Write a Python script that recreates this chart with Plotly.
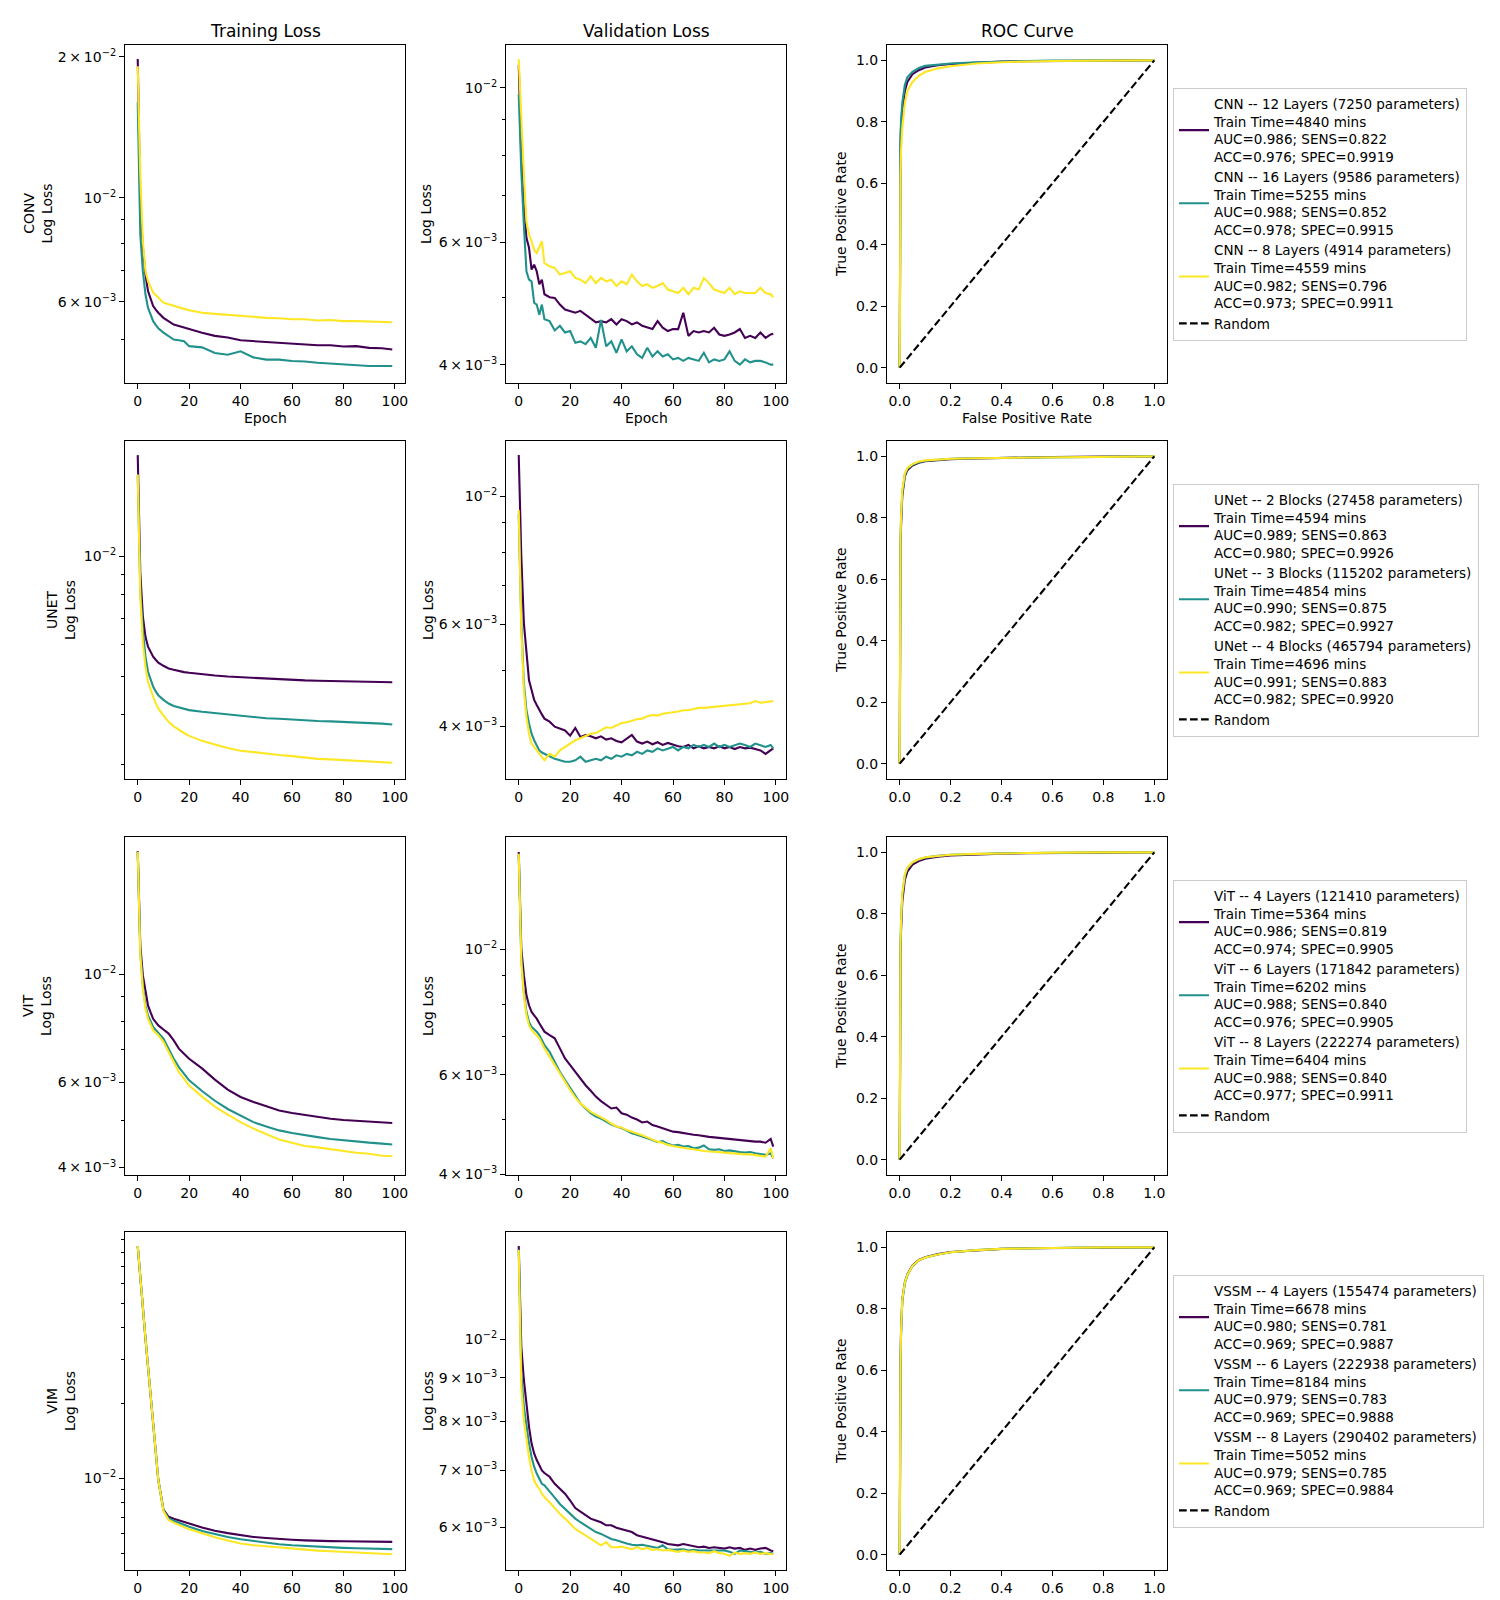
import math
import plotly.graph_objects as go
from plotly.subplots import make_subplots

W, H = 1500, 1600
COLORS = ['#440154', '#21918c', '#fde725']
ROW_NAMES = ['CONV', 'UNET', 'VIT', 'VIM']
COLUMN_TITLES = ['Training Loss', 'Validation Loss', 'ROC Curve']

# epochs at which the curves were read
TRAIN_EPOCHS = [0, 1, 2, 3, 4, 5, 6, 7, 8, 10, 12, 14, 16, 18, 20, 25, 30, 35, 40, 45,
                50, 55, 60, 65, 70, 75, 80, 85, 90, 95, 99]
VAL_EPOCHS = list(range(0, 11)) + list(range(12, 99, 2)) + [99]
FPR = [0, 0.001, 0.003, 0.005, 0.01, 0.02, 0.03, 0.05, 0.075, 0.1, 0.15, 0.2, 0.3, 0.4, 0.5, 0.6, 0.8, 1.0]

# losses are given in units of 1e-3
conv_train_12 = [19.8, 9.54, 7.83, 6.87, 6.33, 6.08, 5.88, 5.78, 5.69, 5.55, 5.46, 5.37, 5.33, 5.29, 5.24, 5.16,
                 5.08, 5.04, 4.97, 4.95, 4.93, 4.91, 4.89, 4.87, 4.85, 4.85, 4.82, 4.83, 4.79, 4.78, 4.75]
conv_train_16 = [16.0, 8.36, 6.98, 6.23, 5.83, 5.65, 5.46, 5.36, 5.27, 5.16, 5.08, 4.99, 4.97, 4.95, 4.83, 4.80,
                 4.67, 4.63, 4.71, 4.57, 4.52, 4.52, 4.49, 4.48, 4.45, 4.43, 4.41, 4.40, 4.38, 4.38, 4.38]
conv_train_8 = [19.1, 11.23, 8.09, 6.98, 6.65, 6.43, 6.28, 6.21, 6.13, 5.98, 5.93, 5.88, 5.83, 5.80, 5.76, 5.69,
                5.66, 5.63, 5.61, 5.59, 5.55, 5.54, 5.51, 5.51, 5.48, 5.49, 5.46, 5.46, 5.45, 5.45, 5.43]

conv_val_12 = [10.8, 8.0, 6.72, 6.09, 5.89, 5.48, 5.57, 5.45, 5.22, 5.30, 5.05,
               5.00, 4.99, 4.88, 4.80, 4.78, 4.75, 4.78, 4.72, 4.67, 4.60,
               4.62, 4.60, 4.65, 4.57, 4.65, 4.62, 4.57, 4.60, 4.55, 4.52,
               4.50, 4.62, 4.52, 4.47, 4.50, 4.50, 4.75, 4.40, 4.47, 4.45,
               4.47, 4.45, 4.52, 4.42, 4.40, 4.42, 4.45, 4.50, 4.37, 4.40,
               4.37, 4.45, 4.37, 4.42, 4.43]
conv_val_16 = [9.79, 7.6, 6.36, 5.45, 5.30, 5.27, 4.91, 4.88, 4.72, 4.88, 4.65,
               4.62, 4.48, 4.55, 4.45, 4.47, 4.30, 4.32, 4.28, 4.37, 4.23,
               4.64, 4.25, 4.32, 4.16, 4.35, 4.18, 4.25, 4.14, 4.09, 4.23,
               4.11, 4.18, 4.11, 4.14, 4.07, 4.09, 4.05, 4.09, 4.07, 4.05,
               4.16, 4.03, 4.07, 4.05, 4.07, 4.18, 4.05, 4.00, 4.07, 4.03,
               4.05, 4.05, 4.03, 4.00, 4.00]
conv_val_8 = [11.0, 9.0, 7.51, 6.42, 6.16, 6.02, 5.85, 5.79, 5.89, 6.02, 5.60,
              5.54, 5.51, 5.39, 5.42, 5.45, 5.33, 5.30, 5.24, 5.36, 5.24,
              5.33, 5.27, 5.30, 5.19, 5.27, 5.22, 5.39, 5.27, 5.19, 5.22,
              5.16, 5.19, 5.24, 5.13, 5.10, 5.07, 5.16, 5.05, 5.16, 5.13,
              5.33, 5.24, 5.13, 5.10, 5.07, 5.16, 5.05, 5.10, 5.07, 5.07,
              5.07, 5.16, 5.07, 5.05, 5.00]

unet_train_2 = [17.96, 9.08, 7.06, 6.29, 5.93, 5.75, 5.60, 5.50, 5.41, 5.31, 5.23, 5.19, 5.15, 5.12, 5.10, 5.05,
                5.02, 4.99, 4.97, 4.94, 4.92, 4.90, 4.89, 4.88, 4.87, 4.86, 4.86, 4.85, 4.84, 4.84, 4.83]
unet_train_3 = [16.0, 8.24, 6.53, 5.60, 5.13, 4.90, 4.71, 4.58, 4.48, 4.36, 4.27, 4.21, 4.17, 4.14, 4.11, 4.07,
                4.04, 4.00, 3.97, 3.95, 3.92, 3.91, 3.89, 3.88, 3.86, 3.85, 3.84, 3.82, 3.81, 3.80, 3.78]
unet_train_4 = [16.06, 7.93, 6.05, 5.28, 4.84, 4.62, 4.44, 4.28, 4.15, 3.98, 3.84, 3.74, 3.66, 3.60, 3.54, 3.44,
                3.37, 3.30, 3.25, 3.22, 3.19, 3.17, 3.15, 3.12, 3.10, 3.09, 3.08, 3.06, 3.05, 3.04, 3.03]

unet_val_2 = [11.78, 7.87, 6.03, 5.28, 4.80, 4.62, 4.44, 4.35, 4.26, 4.19, 4.12,
              4.07, 3.99, 3.96, 3.93, 3.85, 3.97, 3.83, 3.86, 3.84, 3.81,
              3.84, 3.79, 3.81, 3.77, 3.75, 3.80, 3.86, 3.76, 3.73, 3.76,
              3.72, 3.75, 3.71, 3.74, 3.71, 3.69, 3.68, 3.71, 3.66, 3.69,
              3.66, 3.68, 3.66, 3.69, 3.66, 3.68, 3.65, 3.68, 3.66, 3.67,
              3.65, 3.63, 3.58, 3.64, 3.66]
unet_val_3 = [9.3, 6.03, 4.74, 4.26, 4.04, 3.88, 3.78, 3.71, 3.63, 3.60, 3.58,
              3.54, 3.51, 3.49, 3.47, 3.47, 3.49, 3.54, 3.47, 3.49, 3.51,
              3.49, 3.54, 3.51, 3.56, 3.54, 3.58, 3.56, 3.61, 3.58, 3.63,
              3.61, 3.66, 3.63, 3.66, 3.68, 3.63, 3.68, 3.66, 3.71, 3.68,
              3.71, 3.68, 3.73, 3.68, 3.71, 3.68, 3.71, 3.73, 3.71, 3.68,
              3.73, 3.71, 3.68, 3.71, 3.66]
unet_val_4 = [9.46, 5.87, 4.62, 4.15, 3.88, 3.73, 3.68, 3.63, 3.58, 3.54, 3.49,
              3.58, 3.54, 3.63, 3.68, 3.73, 3.78, 3.81, 3.84, 3.88, 3.89,
              3.94, 3.98, 3.97, 4.01, 4.05, 4.06, 4.09, 4.11, 4.12, 4.16,
              4.18, 4.17, 4.20, 4.21, 4.23, 4.24, 4.26, 4.26, 4.28, 4.30,
              4.30, 4.31, 4.32, 4.33, 4.34, 4.34, 4.35, 4.36, 4.38, 4.38,
              4.42, 4.39, 4.40, 4.41, 4.42]

vit_train_4 = [17.95, 11.48, 9.95, 9.20, 8.63, 8.35, 8.10, 7.97, 7.85, 7.70, 7.55, 7.31, 7.03, 6.86, 6.70, 6.40,
               6.07, 5.79, 5.59, 5.46, 5.35, 5.24, 5.18, 5.13, 5.09, 5.04, 5.01, 4.99, 4.97, 4.95, 4.94]
vit_train_6 = [17.9, 11.11, 9.49, 8.63, 8.23, 7.98, 7.79, 7.68, 7.58, 7.37, 7.03, 6.70, 6.44, 6.24, 6.05, 5.75,
               5.49, 5.28, 5.11, 4.96, 4.86, 4.77, 4.71, 4.66, 4.62, 4.58, 4.55, 4.53, 4.50, 4.48, 4.46]
vit_train_8 = [17.9, 10.94, 9.34, 8.50, 8.10, 7.87, 7.67, 7.58, 7.49, 7.26, 6.92, 6.60, 6.29, 6.10, 5.90, 5.60,
               5.34, 5.14, 4.96, 4.81, 4.68, 4.57, 4.50, 4.43, 4.40, 4.36, 4.32, 4.29, 4.27, 4.23, 4.22]

vit_val_4 = [14.85, 10.03, 9.00, 8.29, 7.96, 7.75, 7.64, 7.54, 7.40, 7.28, 7.15,
             7.05, 6.96, 6.68, 6.41, 6.24, 6.07, 5.91, 5.75, 5.62, 5.49,
             5.39, 5.31, 5.23, 5.25, 5.13, 5.10, 5.04, 5.00, 4.94, 4.96,
             4.89, 4.86, 4.83, 4.80, 4.76, 4.75, 4.73, 4.72, 4.70, 4.69,
             4.67, 4.66, 4.65, 4.64, 4.62, 4.62, 4.60, 4.60, 4.59, 4.58,
             4.57, 4.57, 4.55, 4.62, 4.48]
vit_val_6 = [14.65, 9.63, 8.41, 7.75, 7.44, 7.29, 7.22, 7.15, 7.05, 6.90, 6.77,
             6.59, 6.33, 6.07, 5.87, 5.68, 5.49, 5.34, 5.23, 5.13, 5.06,
             5.02, 4.96, 4.90, 4.86, 4.83, 4.78, 4.73, 4.70, 4.67, 4.63,
             4.60, 4.56, 4.58, 4.53, 4.50, 4.51, 4.48, 4.49, 4.45, 4.46,
             4.50, 4.43, 4.42, 4.43, 4.40, 4.41, 4.39, 4.38, 4.37, 4.38,
             4.36, 4.35, 4.33, 4.36, 4.27]
vit_val_8 = [14.75, 9.50, 8.29, 7.65, 7.34, 7.20, 7.12, 7.05, 6.96, 6.82, 6.68,
             6.46, 6.24, 6.03, 5.83, 5.64, 5.47, 5.34, 5.25, 5.16, 5.10,
             5.05, 4.99, 4.92, 4.86, 4.84, 4.79, 4.76, 4.73, 4.69, 4.65,
             4.61, 4.57, 4.55, 4.51, 4.49, 4.47, 4.45, 4.44, 4.43, 4.41,
             4.40, 4.39, 4.39, 4.38, 4.37, 4.36, 4.36, 4.35, 4.34, 4.34,
             4.33, 4.32, 4.30, 4.45, 4.27]

vim_train_4 = [84.9, 62.4, 47.3, 36.4, 28.0, 21.3, 16.1, 12.6, 9.85, 7.50, 7.02, 6.90, 6.81, 6.70, 6.60, 6.36,
               6.17, 6.04, 5.92, 5.83, 5.77, 5.71, 5.68, 5.65, 5.62, 5.61, 5.60, 5.59, 5.58, 5.58, 5.57]
vim_train_6 = [84.9, 62.4, 47.3, 36.4, 28.0, 21.3, 16.1, 12.6, 9.85, 7.45, 6.91, 6.77, 6.64, 6.52, 6.40, 6.16,
               5.99, 5.83, 5.71, 5.61, 5.53, 5.45, 5.40, 5.36, 5.32, 5.29, 5.27, 5.25, 5.23, 5.22, 5.21]
vim_train_8 = [84.9, 62.4, 47.3, 36.4, 28.0, 21.3, 16.1, 12.6, 9.85, 7.40, 6.81, 6.65, 6.50, 6.38, 6.26, 6.01,
               5.81, 5.64, 5.49, 5.40, 5.34, 5.29, 5.23, 5.19, 5.14, 5.11, 5.08, 5.05, 5.03, 5.00, 4.97]

vim_val_4 = [12.88, 9.80, 8.95, 8.32, 7.88, 7.53, 7.33, 7.20, 7.10, 7.00, 6.95,
             6.88, 6.75, 6.66, 6.57, 6.45, 6.32, 6.26, 6.20, 6.14, 6.11,
             6.08, 6.03, 6.03, 5.99, 5.97, 5.94, 5.92, 5.87, 5.85, 5.83,
             5.81, 5.78, 5.76, 5.73, 5.72, 5.71, 5.73, 5.71, 5.69, 5.68,
             5.69, 5.67, 5.68, 5.67, 5.66, 5.68, 5.66, 5.67, 5.64, 5.66,
             5.64, 5.66, 5.67, 5.63, 5.62]
vim_val_6 = [12.76, 9.11, 8.32, 7.88, 7.53, 7.26, 7.07, 6.94, 6.85, 6.75, 6.72,
             6.60, 6.50, 6.39, 6.30, 6.22, 6.14, 6.08, 6.03, 5.97, 5.92,
             5.89, 5.85, 5.81, 5.79, 5.76, 5.74, 5.72, 5.71, 5.72, 5.70,
             5.68, 5.67, 5.71, 5.65, 5.64, 5.65, 5.65, 5.63, 5.64, 5.63,
             5.63, 5.62, 5.62, 5.63, 5.63, 5.61, 5.58, 5.63, 5.62, 5.61,
             5.60, 5.61, 5.58, 5.59, 5.58]
vim_val_8 = [12.74, 8.79, 8.02, 7.60, 7.26, 7.00, 6.81, 6.72, 6.66, 6.57, 6.51,
             6.42, 6.31, 6.22, 6.14, 6.05, 5.97, 5.92, 5.87, 5.81, 5.76,
             5.71, 5.76, 5.68, 5.68, 5.69, 5.67, 5.65, 5.68, 5.65, 5.67,
             5.64, 5.65, 5.63, 5.64, 5.62, 5.61, 5.63, 5.61, 5.62, 5.60,
             5.60, 5.59, 5.62, 5.59, 5.58, 5.55, 5.60, 5.58, 5.59, 5.58,
             5.60, 5.58, 5.59, 5.58, 5.57]

# true positive rates at FPR
conv_tpr_12 = [0, 0.55, 0.72, 0.78, 0.84, 0.90, 0.93, 0.955, 0.968, 0.977, 0.984, 0.988, 0.993, 0.996, 0.997, 0.998, 0.999, 1.0]
conv_tpr_16 = [0, 0.60, 0.75, 0.80, 0.86, 0.92, 0.945, 0.963, 0.975, 0.982, 0.987, 0.990, 0.994, 0.997, 0.998, 0.999, 1.0, 1.0]
conv_tpr_8 = [0, 0.35, 0.62, 0.70, 0.78, 0.86, 0.90, 0.93, 0.95, 0.962, 0.974, 0.981, 0.990, 0.994, 0.996, 0.998, 0.999, 1.0]
unet_tpr_2 = [0, 0.50, 0.70, 0.77, 0.87, 0.935, 0.955, 0.970, 0.979, 0.984, 0.988, 0.991, 0.993, 0.995, 0.996, 0.998, 0.999, 1.0]
unet_tpr_3 = [0, 0.53, 0.72, 0.79, 0.88, 0.940, 0.959, 0.973, 0.981, 0.986, 0.989, 0.992, 0.994, 0.995, 0.997, 0.998, 0.999, 1.0]
unet_tpr_4 = [0, 0.55, 0.74, 0.80, 0.89, 0.945, 0.962, 0.975, 0.983, 0.987, 0.990, 0.992, 0.994, 0.995, 0.997, 0.998, 0.999, 1.0]
vit_tpr_4 = [0, 0.45, 0.66, 0.74, 0.84, 0.910, 0.937, 0.960, 0.972, 0.979, 0.986, 0.990, 0.994, 0.996, 0.997, 0.998, 0.999, 1.0]
vit_tpr_6 = [0, 0.48, 0.69, 0.77, 0.86, 0.925, 0.948, 0.967, 0.977, 0.983, 0.989, 0.992, 0.995, 0.997, 0.998, 0.999, 1.0, 1.0]
vit_tpr_8 = [0, 0.48, 0.70, 0.77, 0.865, 0.928, 0.950, 0.968, 0.978, 0.984, 0.989, 0.992, 0.995, 0.997, 0.998, 0.999, 1.0, 1.0]
vim_tpr_4 = [0, 0.40, 0.62, 0.72, 0.83, 0.886, 0.912, 0.941, 0.959, 0.968, 0.978, 0.985, 0.991, 0.995, 0.997, 0.998, 1.0, 1.0]
vim_tpr_6 = [0, 0.40, 0.62, 0.71, 0.825, 0.883, 0.909, 0.939, 0.957, 0.967, 0.977, 0.984, 0.991, 0.995, 0.997, 0.998, 1.0, 1.0]
vim_tpr_8 = [0, 0.40, 0.62, 0.72, 0.83, 0.885, 0.910, 0.940, 0.958, 0.967, 0.977, 0.984, 0.991, 0.995, 0.997, 0.998, 1.0, 1.0]

conv_labels = [
    'CNN -- 12 Layers (7250 parameters)<br>Train Time=4840 mins<br>AUC=0.986; SENS=0.822<br>ACC=0.976; SPEC=0.9919',
    'CNN -- 16 Layers (9586 parameters)<br>Train Time=5255 mins<br>AUC=0.988; SENS=0.852<br>ACC=0.978; SPEC=0.9915',
    'CNN -- 8 Layers (4914 parameters)<br>Train Time=4559 mins<br>AUC=0.982; SENS=0.796<br>ACC=0.973; SPEC=0.9911',
]
unet_labels = [
    'UNet -- 2 Blocks (27458 parameters)<br>Train Time=4594 mins<br>AUC=0.989; SENS=0.863<br>ACC=0.980; SPEC=0.9926',
    'UNet -- 3 Blocks (115202 parameters)<br>Train Time=4854 mins<br>AUC=0.990; SENS=0.875<br>ACC=0.982; SPEC=0.9927',
    'UNet -- 4 Blocks (465794 parameters)<br>Train Time=4696 mins<br>AUC=0.991; SENS=0.883<br>ACC=0.982; SPEC=0.9920',
]
vit_labels = [
    'ViT -- 4 Layers (121410 parameters)<br>Train Time=5364 mins<br>AUC=0.986; SENS=0.819<br>ACC=0.974; SPEC=0.9905',
    'ViT -- 6 Layers (171842 parameters)<br>Train Time=6202 mins<br>AUC=0.988; SENS=0.840<br>ACC=0.976; SPEC=0.9905',
    'ViT -- 8 Layers (222274 parameters)<br>Train Time=6404 mins<br>AUC=0.988; SENS=0.840<br>ACC=0.977; SPEC=0.9911',
]
vim_labels = [
    'VSSM -- 4 Layers (155474 parameters)<br>Train Time=6678 mins<br>AUC=0.980; SENS=0.781<br>ACC=0.969; SPEC=0.9887',
    'VSSM -- 6 Layers (222938 parameters)<br>Train Time=8184 mins<br>AUC=0.979; SENS=0.783<br>ACC=0.969; SPEC=0.9888',
    'VSSM -- 8 Layers (290402 parameters)<br>Train Time=5052 mins<br>AUC=0.979; SENS=0.785<br>ACC=0.969; SPEC=0.9884',
]

rows = [
    dict(train=[conv_train_12, conv_train_16, conv_train_8], val=[conv_val_12, conv_val_16, conv_val_8],
         tpr=[conv_tpr_12, conv_tpr_16, conv_tpr_8], labels=conv_labels),
    dict(train=[unet_train_2, unet_train_3, unet_train_4], val=[unet_val_2, unet_val_3, unet_val_4],
         tpr=[unet_tpr_2, unet_tpr_3, unet_tpr_4], labels=unet_labels),
    dict(train=[vit_train_4, vit_train_6, vit_train_8], val=[vit_val_4, vit_val_6, vit_val_8],
         tpr=[vit_tpr_4, vit_tpr_6, vit_tpr_8], labels=vit_labels),
    dict(train=[vim_train_4, vim_train_6, vim_train_8], val=[vim_val_4, vim_val_6, vim_val_8],
         tpr=[vim_tpr_4, vim_tpr_6, vim_tpr_8], labels=vim_labels),
]

# y limits of the log axes (train, val) per row
LOSS_YLIM = [[(4.03e-3, 21.2e-3), (3.764e-3, 11.53e-3)],
             [(2.759e-3, 19.49e-3), (3.239e-3, 12.46e-3)],
             [(3.86e-3, 19.19e-3), (3.99e-3, 15.79e-3)],
             [(4.30e-3, 96.6e-3), (5.34e-3, 13.38e-3)]]

E2 = '10<sup>\u22122</sup>'
def e3(m):
    return f'{m}\u2009\u00d7\u200910<sup>\u22123</sup>'

T_STD = ([0.01, 0.006, 0.004], [E2, e3(6), e3(4)], [0.005, 0.007, 0.008, 0.009])
LOSS_TICKS = [
    [([0.02, 0.01, 0.006], ['2\u2009\u00d7\u200910<sup>\u22122</sup>', E2, e3(6)], [0.005, 0.007, 0.008, 0.009]), T_STD],
    [([0.01], [E2], [0.003, 0.004, 0.005, 0.006, 0.007, 0.008, 0.009]), T_STD],
    [T_STD, T_STD],
    [([0.01], [E2], [0.005, 0.006, 0.007, 0.008, 0.009, 0.02, 0.03, 0.04, 0.05, 0.06, 0.07, 0.08, 0.09]),
     ([0.01, 0.009, 0.008, 0.007, 0.006], [E2, e3(9), e3(8), e3(7), e3(6)], [])],
]

# layout in pixels
X_DOM = [(117, 397), (498, 778), (879, 1159)]
Y_DOM = [(37, 375), (433, 771), (829, 1167), (1224, 1562)]
YTITLE_X = [[29.5, 418, 833], [53, 420, 833], [29, 420, 833], [53, 420, 833]]
XTITLE_Y = 410

FONT = 'DejaVu Sans'
axis_style = dict(showline=True, mirror=True, linecolor='black', linewidth=1.1, ticks='outside', ticklen=5,
                  tickwidth=1.1, tickcolor='black', showgrid=False, zeroline=False, automargin=False,
                  tickfont=dict(family=FONT, size=14, color='black'))

fig = make_subplots(rows=4, cols=3)

for r, row in enumerate(rows):
    leg = 'legend' if r == 0 else f'legend{r + 1}'
    for i in range(3):
        fig.add_trace(go.Scatter(x=TRAIN_EPOCHS, y=[v / 1000 for v in row['train'][i]], mode='lines',
                                 line=dict(color=COLORS[i], width=2.1), showlegend=False, hoverinfo='skip'),
                      row=r + 1, col=1)
        fig.add_trace(go.Scatter(x=VAL_EPOCHS, y=[v / 1000 for v in row['val'][i]], mode='lines',
                                 line=dict(color=COLORS[i], width=2.1), showlegend=False, hoverinfo='skip'),
                      row=r + 1, col=2)
        fig.add_trace(go.Scatter(x=FPR, y=row['tpr'][i], mode='lines', name=row['labels'][i], legend=leg,
                                 line=dict(color=COLORS[i], width=2.1)),
                      row=r + 1, col=3)
    fig.add_trace(go.Scatter(x=[0, 1], y=[0, 1], mode='lines', name='Random', legend=leg,
                             line=dict(color='black', width=2.1, dash='7.7px,3.3px')),
                  row=r + 1, col=3)

annotations = []
for r in range(4):
    for c in range(3):
        idx = r * 3 + c + 1
        xa = 'xaxis' if idx == 1 else f'xaxis{idx}'
        ya = 'yaxis' if idx == 1 else f'yaxis{idx}'
        xd = [X_DOM[c][0] / W, X_DOM[c][1] / W]
        yd = [1 - Y_DOM[r][1] / H, 1 - Y_DOM[r][0] / H]
        if c < 2:
            lo, hi = LOSS_YLIM[r][c]
            vals, texts, minor = LOSS_TICKS[r][c]
            fig.layout[xa].update(domain=xd, range=[-4.95, 103.95], tickmode='array',
                                  tickvals=[0, 20, 40, 60, 80, 100], **axis_style)
            fig.layout[ya].update(domain=yd, type='log', range=[math.log10(lo), math.log10(hi)],
                                  tickmode='array', tickvals=vals, ticktext=texts,
                                  minor=dict(tickmode='array', tickvals=minor, ticks='outside', ticklen=3,
                                             tickwidth=1, tickcolor='black', showgrid=False),
                                  **axis_style)
            xtitle = 'Epoch'
            ytitle = f'{ROW_NAMES[r]}<br>Log Loss' if c == 0 else 'Log Loss'
        else:
            ticks01 = [0, 0.2, 0.4, 0.6, 0.8, 1.0]
            fig.layout[xa].update(domain=xd, range=[-0.05, 1.05], tickmode='array', tickvals=ticks01,
                                  ticktext=[f'{t:.1f}' for t in ticks01], **axis_style)
            fig.layout[ya].update(domain=yd, range=[-0.05, 1.05], tickmode='array', tickvals=ticks01,
                                  ticktext=[f'{t:.1f}' for t in ticks01], **axis_style)
            xtitle = 'False Positive Rate'
            ytitle = 'True Positive Rate'
        annotations.append(dict(text=ytitle, x=YTITLE_X[r][c] / W, y=1 - (Y_DOM[r][0] + Y_DOM[r][1]) / 2 / H,
                                xref='paper', yref='paper', xanchor='center', yanchor='middle',
                                textangle=-90, showarrow=False, font=dict(family=FONT, size=14, color='black')))
        if r == 0:
            annotations.append(dict(text=xtitle, x=(X_DOM[c][0] + X_DOM[c][1]) / 2 / W, y=1 - XTITLE_Y / H,
                                    xref='paper', yref='paper', xanchor='center', yanchor='middle',
                                    showarrow=False, font=dict(family=FONT, size=14, color='black')))

for r in range(4):
    key = 'legend' if r == 0 else f'legend{r + 1}'
    center = (Y_DOM[r][0] + Y_DOM[r][1]) / 2
    fig.update_layout(**{key: dict(x=1165 / W, y=1 - center / H, xanchor='left', yanchor='middle',
                                   bordercolor='#cccccc', borderwidth=1, bgcolor='rgba(255,255,255,0.8)',
                                   font=dict(family=FONT, size=13.5, color='black'),
                                   tracegroupgap=0, itemwidth=30)})

for c, title in enumerate(COLUMN_TITLES):
    annotations.append(dict(text=title, x=(X_DOM[c][0] + X_DOM[c][1]) / 2 / W, y=1 - 23 / H,
                            xref='paper', yref='paper', xanchor='center', yanchor='middle', showarrow=False,
                            font=dict(family=FONT, size=17, color='black')))

fig.update_layout(width=W, height=H, margin=dict(l=0, r=0, t=0, b=0), paper_bgcolor='white',
                  plot_bgcolor='white', font=dict(family=FONT, size=14, color='black'),
                  annotations=annotations, hovermode=False)

fig.write_html('out.html')
